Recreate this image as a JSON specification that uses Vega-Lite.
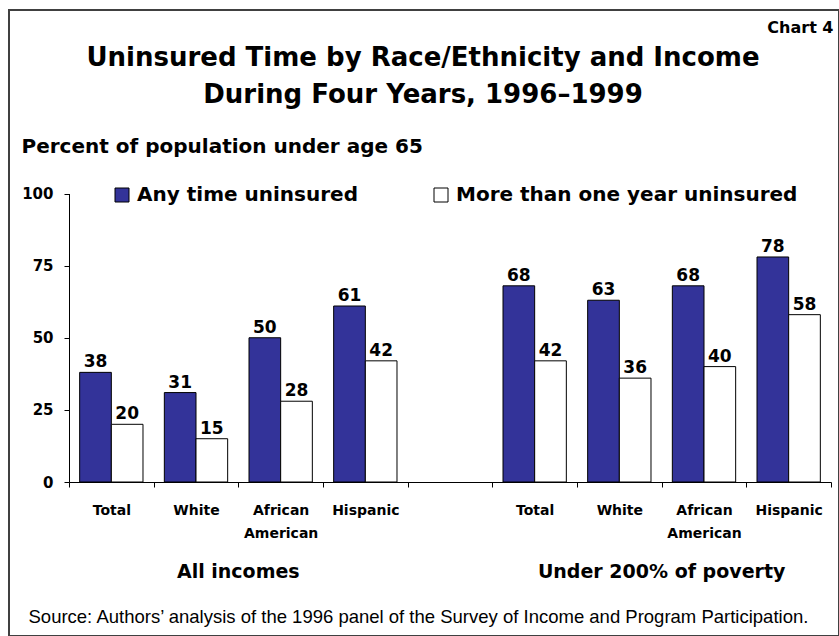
{
  "$schema": "https://vega.github.io/schema/vega-lite/v6.json",
  "autosize": "none",
  "width": 830,
  "height": 626,
  "padding": {"left": 9, "top": 10, "right": 0, "bottom": 0},
  "background": "white",
  "config": {
    "view": {"stroke": "#404040", "strokeWidth": 2, "fill": "white"},
    "axis": {"grid": false},
    "font": "DejaVu Sans"
  },
  "title": {
    "text": ["Uninsured Time by Race/Ethnicity and Income", "During Four Years, 1996–1999"],
    "font": "DejaVu Sans",
    "fontSize": 26,
    "fontWeight": "bold",
    "color": "black",
    "anchor": "middle",
    "frame": "group",
    "baseline": "alphabetic",
    "lineHeight": 37,
    "offset": 0,
    "dy": 119,
    "dx": -1
  },
  "data": {
    "values": [
      {"cat": "T1", "series": "Any time uninsured", "value": 38},
      {"cat": "T1", "series": "More than one year uninsured", "value": 20},
      {"cat": "W1", "series": "Any time uninsured", "value": 31},
      {"cat": "W1", "series": "More than one year uninsured", "value": 15},
      {"cat": "A1", "series": "Any time uninsured", "value": 50},
      {"cat": "A1", "series": "More than one year uninsured", "value": 28},
      {"cat": "H1", "series": "Any time uninsured", "value": 61},
      {"cat": "H1", "series": "More than one year uninsured", "value": 42},
      {"cat": "T2", "series": "Any time uninsured", "value": 68},
      {"cat": "T2", "series": "More than one year uninsured", "value": 42},
      {"cat": "W2", "series": "Any time uninsured", "value": 63},
      {"cat": "W2", "series": "More than one year uninsured", "value": 36},
      {"cat": "A2", "series": "Any time uninsured", "value": 68},
      {"cat": "A2", "series": "More than one year uninsured", "value": 40},
      {"cat": "H2", "series": "Any time uninsured", "value": 78},
      {"cat": "H2", "series": "More than one year uninsured", "value": 58}
    ]
  },
  "resolve": {"axis": {"x": "independent", "y": "independent"}},
  "layer": [
    {
      "mark": {"type": "bar", "stroke": "black", "strokeWidth": 1},
      "encoding": {
        "x": {
          "field": "cat",
          "type": "nominal",
          "sort": null,
          "scale": {
            "type": "band",
            "domain": ["T1", "W1", "A1", "H1", "gap", "T2", "W2", "A2", "H2"],
            "range": [60, 822],
            "paddingInner": 0,
            "paddingOuter": 0
          },
          "axis": {
            "orient": "bottom",
            "offset": -154,
            "title": null,
            "tickBand": "extent",
            "tickSize": 5,
            "tickColor": "black",
            "domainColor": "black",
            "labelAngle": 0,
            "labelFont": "DejaVu Sans",
            "labelFontWeight": "bold",
            "labelFontSize": 14,
            "labelColor": "black",
            "labelBaseline": "alphabetic",
            "labelPadding": 27,
            "labelLineHeight": 23,
            "labelExpr": "(datum.value == 'T1' || datum.value == 'T2') ? 'Total' : (datum.value == 'W1' || datum.value == 'W2') ? 'White' : (datum.value == 'A1' || datum.value == 'A2') ? ['African', 'American'] : (datum.value == 'H1' || datum.value == 'H2') ? 'Hispanic' : ''"
          }
        },
        "xOffset": {
          "field": "series",
          "type": "nominal",
          "scale": {"domain": ["Any time uninsured", "More than one year uninsured"], "paddingInner": 0, "paddingOuter": 0.337}
        },
        "y": {
          "field": "value",
          "type": "quantitative",
          "scale": {"domain": [0, 100], "range": [472, 183.5], "nice": false, "zero": true},
          "axis": {
            "orient": "left",
            "offset": -60,
            "values": [0, 25, 50, 75, 100],
            "tickSize": 5,
            "tickColor": "black",
            "domainColor": "black",
            "labelFont": "DejaVu Sans",
            "labelFontWeight": "bold",
            "labelFontSize": 15,
            "labelColor": "black",
            "labelPadding": 11,
            "title": "Percent of population under age 65",
            "titleAngle": 0,
            "titleAlign": "left",
            "titleBaseline": "alphabetic",
            "titleX": -48,
            "titleY": 142,
            "titleFont": "DejaVu Sans",
            "titleFontWeight": "bold",
            "titleFontSize": 20,
            "titleColor": "black",
            "titleLimit": 600
          }
        },
        "color": {
          "field": "series",
          "type": "nominal",
          "scale": {"domain": ["Any time uninsured", "More than one year uninsured"], "range": ["#333399", "#ffffff"]},
          "legend": {
            "title": null,
            "orient": "none",
            "direction": "horizontal",
            "columns": 2,
            "legendX": 103,
            "legendY": 175,
            "padding": 0,
            "columnPadding": 73,
            "symbolType": "square",
            "symbolSize": 196,
            "symbolStrokeColor": "black",
            "symbolStrokeWidth": 1,
            "symbolOpacity": 1,
            "labelOffset": 5,
            "labelFont": "DejaVu Sans",
            "labelFontWeight": "bold",
            "labelFontSize": 20,
            "labelColor": "black",
            "labelLimit": 500
          }
        }
      }
    },
    {
      "mark": {"type": "text", "font": "DejaVu Sans", "fontWeight": "bold", "fontSize": 17, "baseline": "alphabetic", "dy": -5, "color": "black"},
      "encoding": {
        "x": {
          "field": "cat",
          "type": "nominal",
          "sort": null,
          "axis": {
            "orient": "bottom",
            "offset": -154,
            "values": ["W1", "W2"],
            "labelOffset": 42.3,
            "ticks": false,
            "domain": false,
            "labelAngle": 0,
            "labelFont": "DejaVu Sans",
            "labelFontWeight": "bold",
            "labelFontSize": 19,
            "labelColor": "black",
            "labelBaseline": "alphabetic",
            "labelPadding": 95,
            "labelLimit": 400,
            "labelExpr": "datum.value == 'W1' ? 'All incomes' : 'Under 200% of poverty'",
            "title": "Source: Authors’ analysis of the 1996 panel of the Survey of Income and Program Participation.",
            "titleX": 19,
            "titleY": 140,
            "titleAlign": "left",
            "titleAnchor": "start",
            "titleBaseline": "alphabetic",
            "titleFont": "Liberation Sans",
            "titleFontWeight": "normal",
            "titleFontSize": 18.5,
            "titleColor": "black",
            "titleLimit": 900
          }
        },
        "xOffset": {"field": "series", "type": "nominal"},
        "y": {
          "field": "value",
          "type": "quantitative",
          "axis": {
            "orient": "right",
            "domain": false,
            "ticks": false,
            "labels": false,
            "title": "Chart 4",
            "titleAngle": 0,
            "titleAlign": "right",
            "titleBaseline": "alphabetic",
            "titleX": -6,
            "titleY": 22,
            "titleFont": "DejaVu Sans",
            "titleFontWeight": "bold",
            "titleFontSize": 16,
            "titleColor": "black"
          }
        },
        "text": {"field": "value", "type": "quantitative"}
      }
    }
  ]
}
